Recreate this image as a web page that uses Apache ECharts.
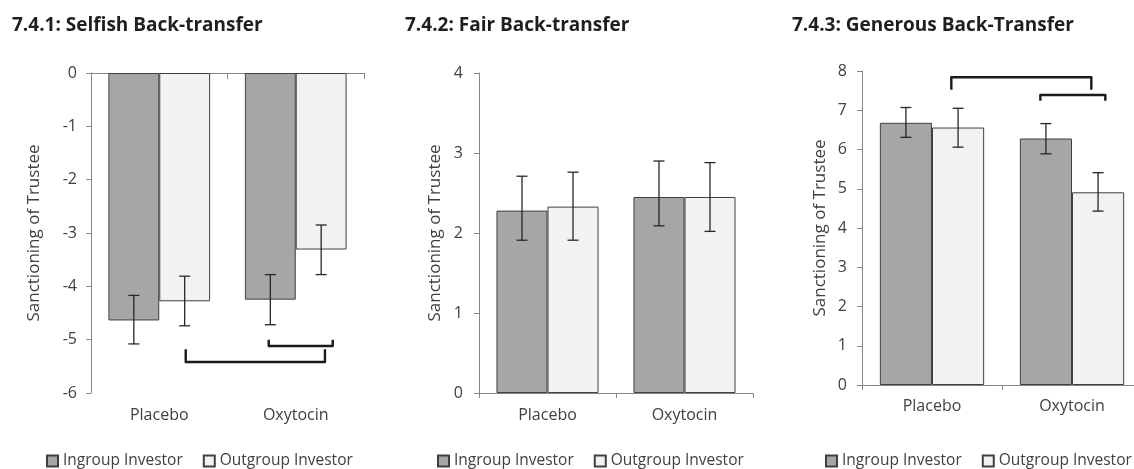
<!DOCTYPE html>
<html>
<head>
<meta charset="utf-8">
<script src="https://cdn.jsdelivr.net/npm/echarts@6/dist/echarts.min.js"></script>
<style>
html,body{margin:0;padding:0;background:#fff;}
#chart{width:1134px;height:469px;}
</style>
</head>
<body>
<div id="chart"></div>
<script>
// ---------- DATA ----------
var categories = ['Placebo', 'Oxytocin'];
var seriesNames = ['Ingroup Investor', 'Outgroup Investor'];
var titles = ['7.4.1: Selfish Back-transfer', '7.4.2: Fair Back-transfer', '7.4.3: Generous Back-Transfer'];
var yName = 'Sanctioning of Trustee';

// Panel 1: Selfish
var selfishIngroup = [-4.64, -4.25];
var selfishOutgroup = [-4.28, -3.31];
var selfishIngroupLow = [-5.08, -4.72];
var selfishIngroupHigh = [-4.17, -3.78];
var selfishOutgroupLow = [-4.74, -3.78];
var selfishOutgroupHigh = [-3.81, -2.85];

// Panel 2: Fair
var fairIngroup = [2.28, 2.45];
var fairOutgroup = [2.33, 2.45];
var fairIngroupLow = [1.91, 2.09];
var fairIngroupHigh = [2.71, 2.90];
var fairOutgroupLow = [1.91, 2.02];
var fairOutgroupHigh = [2.76, 2.88];

// Panel 3: Generous
var generousIngroup = [6.68, 6.28];
var generousOutgroup = [6.56, 4.91];
var generousIngroupLow = [6.31, 5.89];
var generousIngroupHigh = [7.07, 6.66];
var generousOutgroupLow = [6.06, 4.43];
var generousOutgroupHigh = [7.05, 5.41];

// Y axis ranges (min, max, interval)
var selfishAxis = [-6, 0, 1];
var fairAxis = [0, 4, 1];
var generousAxis = [0, 8, 1];

// Significance brackets: [xStart, xEnd, yHorizontal, yEnd] (x in category units 0..2)
var selfishBrackets = [[0.694, 1.714, -5.42, -5.18], [1.302, 1.771, -5.12, -5.00]];
var generousBrackets = [[0.638, 1.638, 7.84, 7.52], [1.274, 1.738, 7.39, 7.24]];

// ---------- STYLE ----------
var FONT = 'Open Sans';
var TXT = '#404040';
var AXIS = '#868686';
var COLORS = ['#a6a6a6', '#f2f2f2'];
var GAP = 0.255;

function zip(lo, hi) { return lo.map(function (v, i) { return [i, v, hi[i]]; }); }

function errorSeries(name, side, lo, hi, xi, yi) {
  return {
    type: 'custom', name: name + ' err', xAxisIndex: xi, yAxisIndex: yi, z: 5,
    silent: true,
    data: zip(lo, hi),
    encode: { x: 0, y: [1, 2] },
    renderItem: function (params, api) {
      var catW = api.size([1, 0])[0];
      var off = side * catW * (1 - GAP) / 4;
      var p1 = api.coord([api.value(0), api.value(1)]);
      var p2 = api.coord([api.value(0), api.value(2)]);
      var x = p1[0] + off, cap = 5.5;
      var st = { stroke: '#262626', lineWidth: 1.3 };
      return { type: 'group', children: [
        { type: 'line', shape: { x1: x, y1: p1[1], x2: x, y2: p2[1] }, style: st },
        { type: 'line', shape: { x1: x - cap, y1: p1[1], x2: x + cap, y2: p1[1] }, style: st },
        { type: 'line', shape: { x1: x - cap, y1: p2[1], x2: x + cap, y2: p2[1] }, style: st }
      ]};
    }
  };
}

function bracketSeries(data, xi, yi) {
  return {
    type: 'custom', xAxisIndex: xi, yAxisIndex: yi, z: 6, silent: true,
    data: data,
    encode: { x: [0, 1], y: [2, 3] },
    renderItem: function (params, api) {
      var a = api.coord([api.value(0), api.value(3)]);
      var b = api.coord([api.value(0), api.value(2)]);
      var c = api.coord([api.value(1), api.value(2)]);
      var d = api.coord([api.value(1), api.value(3)]);
      return { type: 'polyline', shape: { points: [a, b, c, d] },
        style: { stroke: '#1a1a1a', lineWidth: 2.4, fill: null, lineJoin: 'round', lineCap: 'butt' } };
    }
  };
}

function barSeries(name, idx, data, xi, yi) {
  return {
    type: 'bar', name: name, xAxisIndex: xi, yAxisIndex: yi, data: data,
    barGap: '0%', barCategoryGap: (GAP * 100) + '%',
    itemStyle: { color: COLORS[idx], borderColor: '#404040', borderWidth: 1 },
    emphasis: { disabled: true }
  };
}

function yAx(gridIndex, rng, margin, nameGap) {
  return {
    type: 'value', gridIndex: gridIndex, min: rng[0], max: rng[1], interval: rng[2],
    name: yName, nameLocation: 'middle', nameGap: nameGap,
    nameTextStyle: { fontFamily: FONT, fontSize: 17, color: TXT },
    axisLine: { show: true, lineStyle: { color: AXIS, width: 1 } },
    axisTick: { show: true, length: 5, lineStyle: { color: AXIS } },
    axisLabel: { fontFamily: FONT, fontSize: 16, color: TXT, margin: margin },
    splitLine: { show: false }
  };
}

function catAx(gridIndex, opts) {
  var base = {
    type: 'category', gridIndex: gridIndex, data: categories,
    axisLine: { show: true, onZero: false, lineStyle: { color: AXIS, width: 1 } },
    axisTick: { show: true, length: 5, lineStyle: { color: AXIS } },
    axisLabel: { fontFamily: FONT, fontSize: 16, color: TXT, margin: 14 }
  };
  for (var k in opts) base[k] = opts[k];
  return base;
}

function valAxHidden(gridIndex) {
  return { type: 'value', gridIndex: gridIndex, min: 0, max: 2, show: false };
}

function titleAt(text, left) {
  return { text: text, left: left, top: 16, padding: 0,
    textStyle: { fontFamily: FONT, fontWeight: 'bold', fontSize: 19, color: '#1f1f1f' } };
}

function legendAt(left) {
  return {
    data: seriesNames, left: left, top: 453, width: 340, padding: 0, itemGap: 20,
    icon: 'rect', itemWidth: 11, itemHeight: 11, selectedMode: false,
    textStyle: { fontFamily: FONT, fontSize: 15.5, color: TXT }
  };
}

var option = {
  animation: false,
  backgroundColor: '#ffffff',
  title: [titleAt(titles[0], 12), titleAt(titles[1], 405), titleAt(titles[2], 792)],
  legend: [legendAt(46), legendAt(437), legendAt(825)],
  grid: [
    { left: 91, top: 73, width: 273, height: 320, outerBoundsMode: 'none', containLabel: false },
    { left: 479, top: 73, width: 274, height: 320, outerBoundsMode: 'none', containLabel: false },
    { left: 862, top: 71, width: 280, height: 314, outerBoundsMode: 'none', containLabel: false }
  ],
  xAxis: [
    catAx(0, { position: 'top', axisTick: { show: true, inside: true, length: 6, lineStyle: { color: AXIS } }, axisLabel: { show: false } }),
    catAx(0, { position: 'bottom', axisLine: { show: false, onZero: false }, axisTick: { show: false }, axisLabel: { fontFamily: FONT, fontSize: 16, color: TXT, margin: 14 } }),
    valAxHidden(0),
    catAx(1, { position: 'bottom' }),
    catAx(2, { position: 'bottom', axisLabel: { fontFamily: FONT, fontSize: 16, color: TXT, margin: 13 } }),
    valAxHidden(2)
  ],
  yAxis: [
    yAx(0, selfishAxis, 14, 48),
    yAx(1, fairAxis, 16, 35),
    yAx(2, generousAxis, 15, 33)
  ],
  series: [
    barSeries(seriesNames[0], 0, selfishIngroup, 0, 0),
    barSeries(seriesNames[1], 1, selfishOutgroup, 0, 0),
    errorSeries('s-in', -1, selfishIngroupLow, selfishIngroupHigh, 0, 0),
    errorSeries('s-out', 1, selfishOutgroupLow, selfishOutgroupHigh, 0, 0),
    bracketSeries(selfishBrackets, 2, 0),

    barSeries(seriesNames[0], 0, fairIngroup, 3, 1),
    barSeries(seriesNames[1], 1, fairOutgroup, 3, 1),
    errorSeries('f-in', -1, fairIngroupLow, fairIngroupHigh, 3, 1),
    errorSeries('f-out', 1, fairOutgroupLow, fairOutgroupHigh, 3, 1),

    barSeries(seriesNames[0], 0, generousIngroup, 4, 2),
    barSeries(seriesNames[1], 1, generousOutgroup, 4, 2),
    errorSeries('g-in', -1, generousIngroupLow, generousIngroupHigh, 4, 2),
    errorSeries('g-out', 1, generousOutgroupLow, generousOutgroupHigh, 4, 2),
    bracketSeries(generousBrackets, 5, 2)
  ]
};

var chart = echarts.init(document.getElementById('chart'), null, { renderer: 'canvas' });
chart.setOption(option);
</script>
</body>
</html>
